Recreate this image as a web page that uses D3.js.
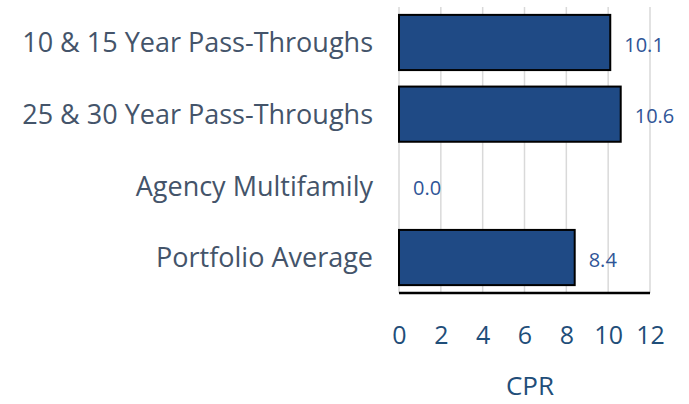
<!DOCTYPE html>
<html><head><meta charset="utf-8">
<script src="https://cdn.jsdelivr.net/npm/d3@7"></script>
<style>body{margin:0;background:#fff}svg{display:block}</style>
</head><body>
<script>
const categories = ["10 & 15 Year Pass-Throughs","25 & 30 Year Pass-Throughs","Agency Multifamily","Portfolio Average"];
const values = [10.1, 10.6, 0.0, 8.4];
const tickValues = [0,2,4,6,8,10,12];
const axisTitle = "CPR";

const W=689,H=404;
const svg=d3.select("body").append("svg").attr("width",W).attr("height",H);
const x=d3.scaleLinear().domain([0,12]).range([399,650]);
const y=d3.scaleBand().domain(categories).range([7,293]).paddingInner(0.23).paddingOuter(0.11);
const font="'Open Sans', sans-serif";

// gridlines
svg.append("g").selectAll("line").data(tickValues).join("line")
 .attr("x1",d=>x(d)).attr("x2",d=>x(d)).attr("y1",7).attr("y2",293)
 .attr("stroke","#d9d9d9").attr("stroke-width",1.5);

// bars
svg.append("g").selectAll("rect").data(values).join("rect")
 .attr("x",x(0)).attr("y",(d,i)=>y(categories[i]))
 .attr("width",d=>x(d)-x(0)).attr("height",y.bandwidth())
 .attr("fill","#1f4a85").attr("stroke","#000").attr("stroke-width",2);

// value labels
svg.append("g").selectAll("text").data(values).join("text")
 .attr("x",d=>x(d)+14).attr("y",(d,i)=>y(categories[i])+y.bandwidth()/2+2)
 .attr("dy","0.36em").attr("font-family",font).attr("font-size",20)
 .attr("fill","#2f5597").text(d=>d.toFixed(1));

// bottom axis line
svg.append("line").attr("x1",x(0)).attr("x2",x(12)).attr("y1",293).attr("y2",293)
 .attr("stroke","#000").attr("stroke-width",2.5);

// x axis tick labels
const xa=svg.append("g").attr("transform","translate(0,293)")
 .call(d3.axisBottom(x).tickValues(tickValues).tickSize(0).tickPadding(33).tickFormat(d3.format("d")));
xa.select(".domain").remove();
xa.selectAll("text").attr("font-family",font).attr("font-size",25).attr("fill","#1f4e79");

// y axis labels
const ya=svg.append("g").attr("transform","translate(373,0)")
 .call(d3.axisLeft(y).tickSize(0).tickPadding(0));
ya.select(".domain").remove();
ya.selectAll("text").attr("font-family",font).attr("font-size",27).attr("dy","0.36em").attr("fill","#44546a");

svg.append("text").attr("x",530).attr("y",395).attr("text-anchor","middle")
 .attr("font-family",font).attr("font-size",26).attr("fill","#1f4e79").text(axisTitle);
</script>
</body></html>
